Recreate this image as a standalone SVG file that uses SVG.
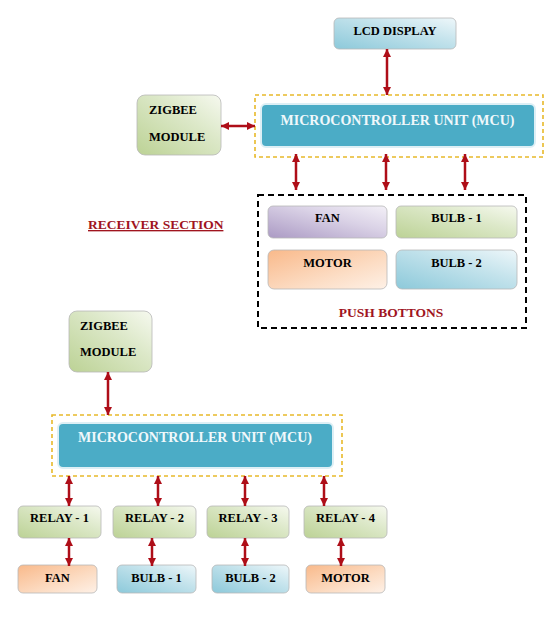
<svg xmlns="http://www.w3.org/2000/svg" width="555" height="626" viewBox="0 0 555 626">
<defs>
<linearGradient id="gGreen" x1="0" y1="1" x2="1" y2="0"><stop offset="0" stop-color="#BCD295"/><stop offset="0.6" stop-color="#DCE8C8"/><stop offset="1" stop-color="#F6F9EF"/></linearGradient>
<linearGradient id="gBlue" x1="0" y1="1" x2="1" y2="0"><stop offset="0" stop-color="#8CC9DA"/><stop offset="0.6" stop-color="#C4E3EC"/><stop offset="1" stop-color="#EEF7FA"/></linearGradient>
<linearGradient id="gOrange" x1="0" y1="0" x2="1" y2="1"><stop offset="0" stop-color="#F9B98A"/><stop offset="0.6" stop-color="#FCDCC3"/><stop offset="1" stop-color="#FEF1E7"/></linearGradient>
<linearGradient id="gPurple" x1="0" y1="1" x2="1" y2="0"><stop offset="0" stop-color="#AB9AC4"/><stop offset="0.6" stop-color="#DAD2E6"/><stop offset="1" stop-color="#F3F0F7"/></linearGradient>
<marker id="ah" viewBox="0 0 8 8" refX="8" refY="4" markerWidth="8" markerHeight="8" markerUnits="userSpaceOnUse" orient="auto-start-reverse"><path d="M0,0 L8,4 L0,8 z" fill="#AE0E18"/></marker>
</defs>
<style>
.box{stroke:#B8B8B8;stroke-width:0.8}
.green{fill:url(#gGreen)}
.blue{fill:url(#gBlue)}
.orange{fill:url(#gOrange)}
.purple{fill:url(#gPurple)}
.mcu{fill:#4BACC6;stroke:#DDEFF5;stroke-width:2}
.ydash{fill:none;stroke:#E8B92A;stroke-width:1.6;stroke-dasharray:4 3}
.kdash{fill:none;stroke:#000;stroke-width:2;stroke-dasharray:6 4}
.lbl{font-family:"Liberation Serif","Times New Roman",serif;font-weight:bold;font-size:12.5px;fill:#000}
.c{text-anchor:middle}
.mcut{font-family:"Liberation Serif","Times New Roman",serif;font-weight:bold;font-size:14px;fill:#F0F8FB;text-anchor:middle}
.red{font-family:"Liberation Serif","Times New Roman",serif;font-weight:bold;font-size:13.5px;fill:#A0141E}
.conn line{stroke:#AE0E18;stroke-width:2.5;marker-start:url(#ah);marker-end:url(#ah)}
</style>
<rect width="555" height="626" fill="#fff"/>

<g id="lcd"><rect class="box blue" x="334" y="18" width="122" height="31" rx="5"/><text class="lbl c" x="395" y="35">LCD DISPLAY</text></g>
<g id="mcu1"><rect class="ydash" x="255" y="95" width="288" height="62"/><rect class="mcu" x="261" y="104" width="274" height="43" rx="5"/><text class="mcut" x="397.5" y="125">MICROCONTROLLER UNIT (MCU)</text></g>
<g id="zigbee1"><rect class="box green" x="137" y="95" width="84" height="60" rx="8"/><text class="lbl" x="149" y="114">ZIGBEE</text><text class="lbl" x="149" y="141">MODULE</text></g>
<g id="receiver-label"><text class="red" x="88" y="229" text-decoration="underline">RECEIVER SECTION</text></g>
<g id="pushbuttons"><rect class="kdash" x="258" y="195" width="268" height="133"/><text class="red c" x="391" y="317">PUSH BOTTONS</text></g>
<g id="pb-fan"><rect class="box purple" x="268" y="206" width="119" height="32" rx="5"/><text class="lbl c" x="327.5" y="222">FAN</text></g>
<g id="pb-bulb1"><rect class="box green" x="396" y="206" width="121" height="32" rx="5"/><text class="lbl c" x="456.5" y="222">BULB - 1</text></g>
<g id="pb-motor"><rect class="box orange" x="268" y="250" width="119" height="39" rx="6"/><text class="lbl c" x="327.5" y="267">MOTOR</text></g>
<g id="pb-bulb2"><rect class="box blue" x="396" y="250" width="121" height="39" rx="6"/><text class="lbl c" x="456.5" y="267">BULB - 2</text></g>

<g id="zigbee2"><rect class="box green" x="69" y="311" width="83" height="61" rx="8"/><text class="lbl" x="80" y="330">ZIGBEE</text><text class="lbl" x="80" y="356">MODULE</text></g>
<g id="mcu2"><rect class="ydash" x="52" y="415" width="290" height="61"/><rect class="mcu" x="58" y="423" width="275" height="45" rx="5"/><text class="mcut" x="195" y="442">MICROCONTROLLER UNIT (MCU)</text></g>
<g id="relay1"><rect class="box green" x="18" y="506" width="83" height="32" rx="5"/><text class="lbl c" x="59.5" y="522">RELAY - 1</text></g>
<g id="relay2"><rect class="box green" x="113" y="506" width="83" height="32" rx="5"/><text class="lbl c" x="154.5" y="522">RELAY - 2</text></g>
<g id="relay3"><rect class="box green" x="207" y="506" width="82" height="32" rx="5"/><text class="lbl c" x="248" y="522">RELAY - 3</text></g>
<g id="relay4"><rect class="box green" x="304" y="506" width="83" height="32" rx="5"/><text class="lbl c" x="345.5" y="522">RELAY - 4</text></g>
<g id="fan"><rect class="box orange" x="18" y="565" width="79" height="28" rx="5"/><text class="lbl c" x="57.5" y="582">FAN</text></g>
<g id="bulb1"><rect class="box blue" x="117" y="565" width="79" height="28" rx="5"/><text class="lbl c" x="156.5" y="582">BULB - 1</text></g>
<g id="bulb2"><rect class="box blue" x="212" y="565" width="77" height="28" rx="5"/><text class="lbl c" x="250.5" y="582">BULB - 2</text></g>
<g id="motor"><rect class="box orange" x="306" y="565" width="79" height="28" rx="5"/><text class="lbl c" x="345.5" y="582">MOTOR</text></g>

<g id="connectors" class="conn">
<line x1="387" y1="49" x2="387" y2="95"/>
<line x1="221" y1="126" x2="255" y2="126"/>
<line x1="296" y1="154" x2="296" y2="190"/>
<line x1="386" y1="154" x2="386" y2="190"/>
<line x1="465" y1="154" x2="465" y2="190"/>
<line x1="108" y1="372" x2="108" y2="415"/>
<line x1="69" y1="476" x2="69" y2="506"/>
<line x1="158" y1="476" x2="158" y2="506"/>
<line x1="245" y1="476" x2="245" y2="506"/>
<line x1="324" y1="476" x2="324" y2="506"/>
<line x1="69" y1="538" x2="69" y2="566"/>
<line x1="152" y1="538" x2="152" y2="566"/>
<line x1="245" y1="538" x2="245" y2="566"/>
<line x1="341" y1="538" x2="341" y2="566"/>
</g>
</svg>
